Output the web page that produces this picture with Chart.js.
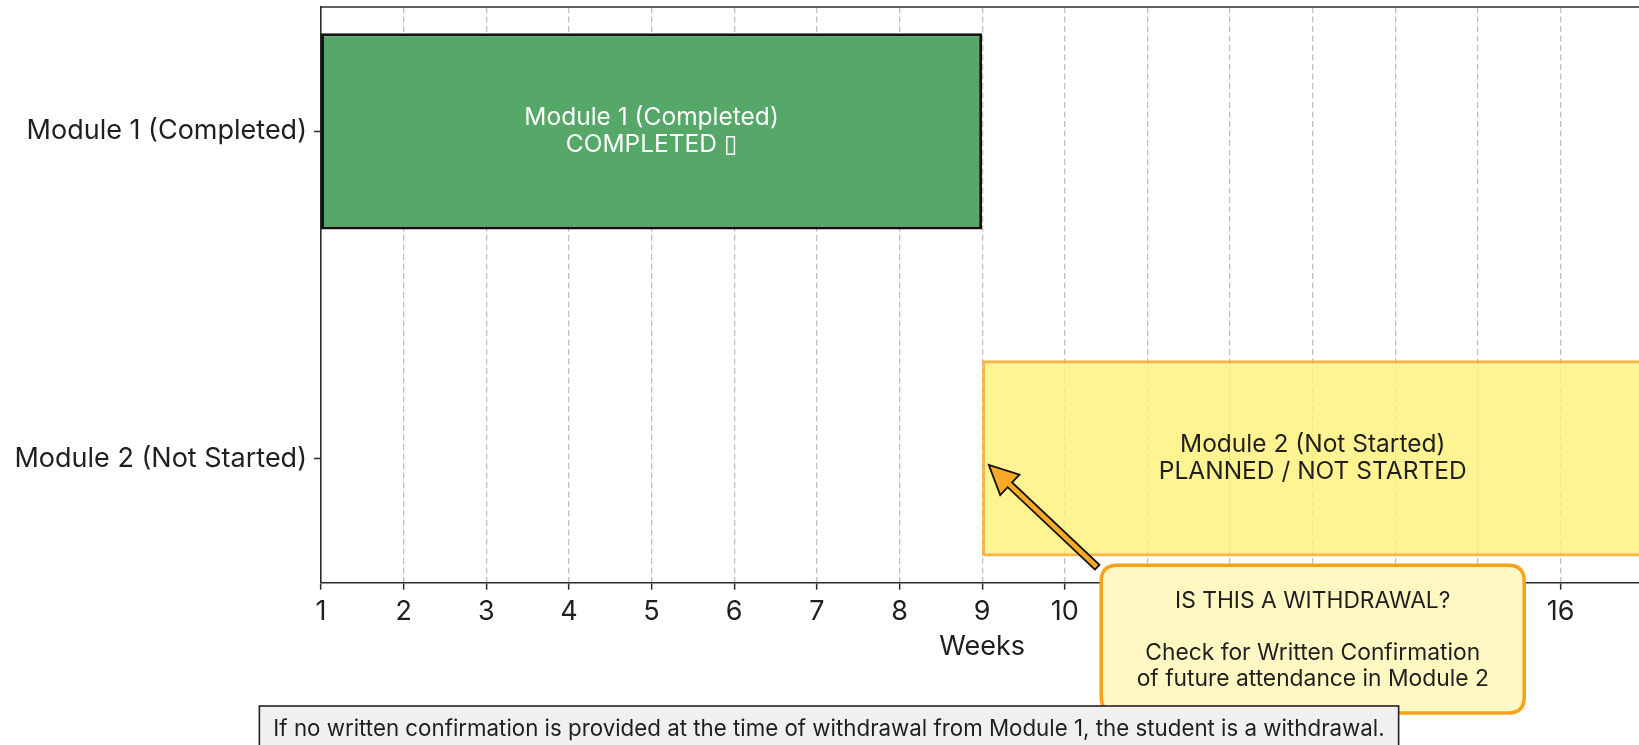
<!DOCTYPE html>
<html>
<head>
<meta charset="utf-8">
<script src="https://cdn.jsdelivr.net/npm/chart.js@4.4.1/dist/chart.umd.min.js"></script>
<style>
  html, body { margin: 0; padding: 0; background: #ffffff; overflow: hidden; }
  #wrap { position: absolute; left: 0; top: 0; width: 1700px; height: 745px; }
</style>
</head>
<body>
<div id="wrap"><canvas id="c" width="1700" height="745"></canvas></div>
<script>
// ---------------- data ----------------
const categories = ['Module 1 (Completed)', 'Module 2 (Not Started)'];
const startWeeks = [1, 9];
const endWeeks = [9, 17];
const statusLabels = ['COMPLETED \u25AF', 'PLANNED / NOT STARTED'];
const weekTicks = [1, 2, 3, 4, 5, 6, 7, 8, 9, 10, 11, 12, 13, 14, 15, 16];
const calloutLines = ['IS THIS A WITHDRAWAL?', '', 'Check for Written Confirmation', 'of future attendance in Module 2'];
const footnote = 'If no written confirmation is provided at the time of withdrawal from Module 1, the student is a withdrawal.';

// ---------------- style ----------------
const FONT = 'Inter, "Open Sans", "DejaVu Sans", sans-serif';
const barFill = ['#55A868', 'rgba(255,241,118,0.8)'];
const barEdge = ['#111111', 'rgba(249,168,37,0.85)'];
const barEdgeWidth = [3, 3.2];
const barTextColor = ['#ffffff', '#1f1f1f'];
const INK = '#1f1f1f';
const SPINE = '#2b2b2b';

const framePlugin = {
  id: 'frameAndNotes',
  afterDatasetsDraw(chart) {
    const ctx = chart.ctx;
    const meta = chart.getDatasetMeta(0);
    ctx.save();
    ctx.font = '24.5px ' + FONT;
    ctx.textAlign = 'center';
    ctx.textBaseline = 'middle';
    meta.data.forEach((bar, i) => {
      const cx = (bar.x + bar.base) / 2;
      const cy = bar.y;
      ctx.fillStyle = barTextColor[i];
      ctx.fillText(categories[i], cx, cy - 14);
      ctx.fillText(statusLabels[i], cx, cy + 13.5);
    });
    ctx.restore();
  },
  afterDraw(chart) {
    const ctx = chart.ctx;
    const area = chart.chartArea;
    const xs = chart.scales.x;
    const ys = chart.scales.y;
    ctx.save();
    // top frame line
    ctx.strokeStyle = SPINE;
    ctx.lineWidth = 1.6;
    ctx.beginPath();
    ctx.moveTo(area.left, area.top);
    ctx.lineTo(area.right, area.top);
    ctx.stroke();

    // callout box geometry
    const bcx = xs.getPixelForValue(13);
    const bw = 423, bTop = area.bottom - 17.5, bBot = 713;
    const bl = bcx - bw / 2, br = bcx + bw / 2;
    // arrow
    const tipX = xs.getPixelForValue(9.08), tipY = ys.getPixelForValue(1.02);
    const tailX = bl - 4, tailY = bTop + 2;
    const ang = Math.atan2(tipY - tailY, tipX - tailX);
    const len = Math.hypot(tipX - tailX, tipY - tailY);
    const headL = 29, headW = 28, shaftW = 6.5;
    ctx.translate(tailX, tailY);
    ctx.rotate(ang);
    ctx.beginPath();
    ctx.moveTo(0, -shaftW / 2);
    ctx.lineTo(len - headL, -shaftW / 2);
    ctx.lineTo(len - headL, -headW / 2);
    ctx.lineTo(len, 0);
    ctx.lineTo(len - headL, headW / 2);
    ctx.lineTo(len - headL, shaftW / 2);
    ctx.lineTo(0, shaftW / 2);
    ctx.closePath();
    ctx.fillStyle = '#F7A928';
    ctx.fill();
    ctx.strokeStyle = '#111111';
    ctx.lineWidth = 1.8;
    ctx.lineJoin = 'miter';
    ctx.stroke();
    ctx.setTransform(chart.currentDevicePixelRatio, 0, 0, chart.currentDevicePixelRatio, 0, 0);

    // box
    const r = 16;
    ctx.beginPath();
    ctx.moveTo(bl + r, bTop);
    ctx.lineTo(br - r, bTop);
    ctx.quadraticCurveTo(br, bTop, br, bTop + r);
    ctx.lineTo(br, bBot - r);
    ctx.quadraticCurveTo(br, bBot, br - r, bBot);
    ctx.lineTo(bl + r, bBot);
    ctx.quadraticCurveTo(bl, bBot, bl, bBot - r);
    ctx.lineTo(bl, bTop + r);
    ctx.quadraticCurveTo(bl, bTop, bl + r, bTop);
    ctx.closePath();
    ctx.fillStyle = '#FFF8C2';
    ctx.fill();
    ctx.strokeStyle = '#F7A21B';
    ctx.lineWidth = 3.5;
    ctx.stroke();
    ctx.fillStyle = INK;
    ctx.font = '22.8px ' + FONT;
    ctx.textAlign = 'center';
    ctx.textBaseline = 'middle';
    const lh = 26;
    const midY = (bTop + bBot) / 2 + 1;
    calloutLines.forEach((t, i) => {
      ctx.fillText(t, bcx, midY + (i - (calloutLines.length - 1) / 2) * lh);
    });

    // footnote box
    ctx.font = '22.3px ' + FONT;
    const tw = ctx.measureText(footnote).width;
    const fcx = 829;
    const fl = fcx - tw / 2 - 14, fr = fcx + tw / 2 + 14, ft = 706, fb = 760;
    ctx.fillStyle = '#F0F0F0';
    ctx.fillRect(fl, ft, fr - fl, fb - ft);
    ctx.strokeStyle = '#222222';
    ctx.lineWidth = 1.6;
    ctx.strokeRect(fl, ft, fr - fl, fb - ft);
    ctx.fillStyle = INK;
    ctx.fillText(footnote, fcx, 729);
    ctx.restore();
  }
};

function draw() {
  const ctx = document.getElementById('c').getContext('2d');
  new Chart(ctx, {
    type: 'bar',
    data: {
      datasets: [{
        data: categories.map((c, i) => ({ x: [startWeeks[i], endWeeks[i]], y: i })),
        backgroundColor: barFill,
        borderColor: barEdge,
        borderWidth: barEdgeWidth,
        borderSkipped: false,
        categoryPercentage: 1,
        barPercentage: 0.6
      }]
    },
    options: {
      indexAxis: 'y',
      responsive: false,
      animation: false,
      layout: { padding: { left: 0, right: 1700 - 1643.3, top: 7, bottom: 745 - 663 } },
      plugins: { legend: { display: false }, tooltip: { enabled: false } },
      scales: {
        x: {
          type: 'linear',
          position: 'bottom',
          min: 1, max: 17,
          z: 1,
          afterBuildTicks: s => { s.ticks = weekTicks.map(v => ({ value: v })); },
          afterFit: s => { s.height = 663 - 582.7; s.paddingLeft = 0; s.paddingRight = 0; },
          ticks: { autoSkip: false, maxRotation: 0, padding: 6, color: INK, font: { family: FONT, size: 27 } },
          grid: {
            color: c => (c.tick && c.tick.value === 1) ? 'rgba(0,0,0,0)' : 'rgba(170,170,170,0.75)',
            lineWidth: 1.3,
            tickColor: SPINE, tickLength: 7, tickWidth: 1.5, drawTicks: true
          },
          border: { display: true, color: SPINE, width: 1.6, dash: [6, 3.5] },
          title: { display: true, text: 'Weeks', color: INK, font: { family: FONT, size: 27 }, padding: { top: 0, bottom: 0 } }
        },
        y: {
          type: 'linear',
          offset: false,
          min: -0.38, max: 1.38,
          reverse: true,
          afterBuildTicks: s => { s.ticks = categories.map((c, i) => ({ value: i })); },
          afterFit: s => { s.width = 321; s.paddingTop = 0; s.paddingBottom = 0; },
          ticks: { callback: v => categories[v], padding: 7, color: INK, font: { family: FONT, size: 27 } },
          grid: { offset: false, drawOnChartArea: false, drawTicks: true, tickLength: 7, tickWidth: 1.5, tickColor: SPINE },
          border: { display: true, color: SPINE, width: 1.6 }
        }
      }
    },
    plugins: [framePlugin]
  });
}

if (document.fonts && document.fonts.load) {
  Promise.all([document.fonts.load('25px Inter'), document.fonts.load('21px Inter')]).then(draw, draw);
} else {
  draw();
}
</script>
</body>
</html>
